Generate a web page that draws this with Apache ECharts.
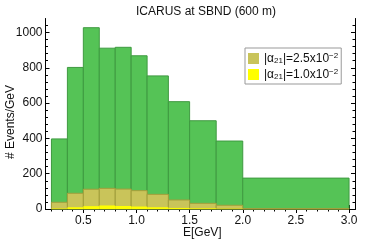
<!DOCTYPE html>
<html><head><meta charset="utf-8">
<script src="https://cdn.jsdelivr.net/npm/echarts@6/dist/echarts.min.js"></script>
<style>html,body{margin:0;padding:0;background:#fff}#c{width:374px;height:244px}</style>
</head><body><div id="c"></div>
<script>
// Bin edges (GeV)
const binEdges = [0.2, 0.35, 0.5, 0.65, 0.8, 0.95, 1.1, 1.3, 1.5, 1.75, 2.0, 3.0];
// Events/GeV, no oscillation (green)
const noOsc = [397, 802, 1027, 911, 916, 868, 754, 608, 500, 385, 175];
// |alpha21| = 2.5x10^-2 (olive)
const alpha25 = [38, 89, 112, 117, 113, 104, 83, 51, 32, 21, 2];
// |alpha21| = 1.0x10^-2 (yellow)
const alpha10 = [3, 10, 16, 20, 17, 14, 10, 6, 4, 2, 0.5];
// Tick values
const xMajor = [0.5, 1.0, 1.5, 2.0, 2.5, 3.0];
const xMinor = [0.2,0.3,0.4,0.6,0.7,0.8,0.9,1.1,1.2,1.3,1.4,1.6,1.7,1.8,1.9,2.1,2.2,2.3,2.4,2.6,2.7,2.8,2.9];
const yMajor = [0, 200, 400, 600, 800, 1000];
const yMinor = [40,80,120,160,240,280,320,360,440,480,520,560,640,680,720,760,840,880,920,960,1040];
const names = ['|α21|=2.5x10-2', '|α21|=1.0x10-2'];

function toData(vals) {
  return vals.map((v, i) => [binEdges[i], binEdges[i + 1], v]);
}
function renderBar(params, api) {
  const p0 = api.coord([api.value(0), 0]);
  const p1 = api.coord([api.value(1), api.value(2)]);
  return {
    type: 'rect',
    shape: { x: p0[0], y: p1[1], width: p1[0] - p0[0], height: p0[1] - p1[1] },
    style: api.style()
  };
}
const XMIN = 0.144, XMAX = 3.056, YMIN = 0, YMAX = 1078;
const font = 'Liberation Sans, Arial, sans-serif';
const FS = 12;
function xAxis(pos, ticks, len, labels) {
  return {
    type: 'value', position: pos, min: XMIN, max: XMAX,
    axisLine: { show: true, lineStyle: { color: '#000', width: 1 } },
    axisTick: { show: true, inside: true, length: len, customValues: ticks, lineStyle: { color: '#000', width: 1 } },
    axisLabel: labels ? { show: true, customValues: ticks, formatter: v => v.toFixed(1), color: '#111', fontSize: FS, fontFamily: font, margin: 6 } : { show: false },
    splitLine: { show: false }
  };
}
function yAxis(pos, ticks, len, labels) {
  return {
    type: 'value', position: pos, min: YMIN, max: YMAX,
    axisLine: { show: true, lineStyle: { color: '#000', width: 1 } },
    axisTick: { show: true, inside: true, length: len, customValues: ticks, lineStyle: { color: '#000', width: 1 } },
    axisLabel: labels ? { show: true, customValues: ticks, formatter: v => String(v), color: '#111', fontSize: FS, fontFamily: font, margin: 3 } : { show: false },
    splitLine: { show: false }
  };
}
const chart = echarts.init(document.getElementById('c'), null, { renderer: 'canvas' });
chart.setOption({
  animation: false,
  title: { text: 'ICARUS at SBND (600 m)', left: 201, textAlign: 'center', top: 1,
    textStyle: { fontSize: FS, fontWeight: 'normal', color: '#111', fontFamily: font } },
  grid: { left: 45.5, right: 19, top: 18.7, bottom: 35 },
  xAxis: [
    xAxis('bottom', xMajor, 4, true),
    xAxis('bottom', xMinor, 2.5, false),
    xAxis('top', xMajor, 4, false),
    xAxis('top', xMinor, 2.5, false)
  ],
  yAxis: [
    yAxis('left', yMajor, 4, true),
    yAxis('left', yMinor, 2.5, false),
    yAxis('right', yMajor, 4, false),
    yAxis('right', yMinor, 2.5, false)
  ],
  graphic: [
    { type: 'text', left: 183, top: 227, style: { text: 'E[GeV]', fontSize: FS, fontFamily: font, fill: '#111' } },
    { type: 'text', x: 5, y: 159, rotation: Math.PI / 2, style: { text: '# Events/GeV', fontSize: FS, fontFamily: font, fill: '#111' } }
  ],
  legend: {
    data: names, orient: 'vertical', left: 245, top: 48,
    backgroundColor: '#fff', borderColor: '#999', borderWidth: 1, padding: [4, 3, 3, 3],
    itemWidth: 11, itemHeight: 11, itemGap: 3, icon: 'rect',
    itemStyle: { borderWidth: 0 },
    formatter: n => n.replace('21', '{sub|21}').replace('-2', '{sup|−2}'),
    textStyle: { fontSize: FS, fontFamily: font, color: '#111',
      rich: { sub: { fontSize: 8, verticalAlign: 'bottom', fontFamily: font, color: '#111', padding: [5, 0, 0, 0] },
              sup: { fontSize: 8, verticalAlign: 'top', fontFamily: font, color: '#111', padding: [0, 0, 5, 0] } } }
  },
  series: [
    { type: 'custom', name: 'no osc', renderItem: renderBar, encode: { x: [0, 1], y: 2 }, data: toData(noOsc),
      itemStyle: { color: '#55c356', borderColor: '#3f9a40', borderWidth: 1 } },
    { type: 'custom', name: names[0], renderItem: renderBar, encode: { x: [0, 1], y: 2 }, data: toData(alpha25),
      itemStyle: { color: '#c9c45a', borderColor: '#a39f3c', borderWidth: 1 } },
    { type: 'custom', name: names[1], renderItem: renderBar, encode: { x: [0, 1], y: 2 }, data: toData(alpha10),
      itemStyle: { color: '#ffff00', borderWidth: 0 } }
  ]
});
</script></body></html>
